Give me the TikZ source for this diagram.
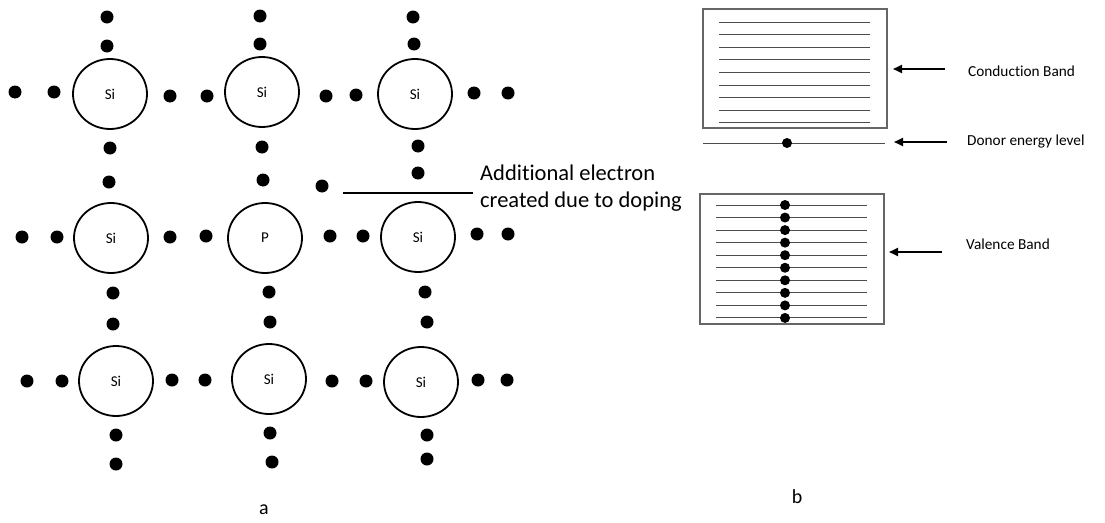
\documentclass[tikz,border=0pt]{standalone}
\usepackage{fontspec}
\setmainfont{Carlito}[Ligatures=NoCommon]
\usetikzlibrary{shapes.geometric,arrows.meta}
\begin{document}
\begin{tikzpicture}[x=1pt,y=-1pt,
  atom/.style={ellipse,draw,line width=1.8pt,minimum width=74pt,minimum height=70pt,
    inner sep=0pt,font=\fontsize{15}{15}\selectfont},
  edot/.style={circle,fill,inner sep=0pt,minimum size=13pt},
  sdot/.style={circle,fill,inner sep=0pt,minimum size=10pt},
  level/.style={line width=1pt,draw=black!70},
  bandbox/.style={draw=black!60,line width=1.2pt,inner sep=0pt},
  pointer/.style={line width=2pt,-{Triangle[length=9pt,width=8pt]}},
  bandlabel/.style={anchor=west,inner sep=0pt,font=\fontsize{15.3}{15.3}\selectfont},
  caption/.style={inner sep=0pt,font=\fontsize{20}{20}\selectfont}]

\useasboundingbox (0,0) rectangle (1105,522);

% ---------- (a) lattice of atoms ----------
\node[atom] (s11) at (110,94)  {Si};
\node[atom] (s12) at (262,92)  {Si};
\node[atom] (s13) at (415,94)  {Si};
\node[atom] (s21) at (111,238) {Si};
\node[atom] (p22) at (265,238) {P};
\node[atom] (s23) at (418,237) {Si};
\node[atom] (s31) at (116,381) {Si};
\node[atom] (s32) at (269,379) {Si};
\node[atom] (s33) at (421,382) {Si};

% valence electrons
\foreach \x/\y [count=\i] in {
  107/17, 107/46, 260/16, 260/44, 413/17, 414/44,
  15/92, 54/92, 170/96, 207/96, 326/96, 356/95, 474/93, 508/93,
  110/148, 109/182, 262/147, 263/180, 418/146, 418/173,
  22/237, 57/237, 170/237, 206/236, 330/236, 363/236, 477/234, 508/234,
  113/293, 113/324, 269/292, 270/322, 425/292, 427/322,
  27/381, 62/381, 172/380, 205/380, 332/381, 366/381, 478/380, 507/380,
  116/435, 116/464, 270/433, 272/462, 427/435, 427/459}
  \node[edot] (e\i) at (\x,\y) {};

% extra electron from the donor atom
\node[edot] (extra) at (322,186) {};
\coordinate (ptrA) at (343,193);
\coordinate (ptrB) at (473,193);
\draw[line width=1.5pt] (ptrA) -- (ptrB);
\node[anchor=west,align=left,inner sep=0pt,font=\fontsize{22.5}{27}\selectfont]
  (extralabel) at (480,188) {Additional electron\\created due to doping};

\node[caption] (capa) at (264,510) {a};

% ---------- (b) band diagram ----------
\node[bandbox,minimum width=184pt,minimum height=119pt] (cb) at (795,68.5) {};
\foreach \k in {0,...,8}
  \draw[level] (719,22+12.6*\k) -- (870,22+12.6*\k);

\coordinate (dl) at (703,143);
\coordinate (dr) at (885,143);
\draw[level] (dl) -- (dr);
\node[sdot] (donor) at (787,143) {};

\node[bandbox,minimum width=184pt,minimum height=130pt] (vb) at (792,259) {};
\foreach \k in {0,...,9} {
  \draw[level] (716,205+12.55*\k) -- (867,205+12.55*\k);
  \node[sdot] (v\k) at (785,205+12.55*\k) {};
}

\node[bandlabel] (cbl) at (968,71)  {Conduction Band};
\node[bandlabel] (dll) at (967,142) {Donor energy level};
\node[bandlabel] (vbl) at (966,244) {Valence Band};

\coordinate (cbs) at (945,69);  \coordinate (cbe) at (893,69);
\coordinate (dls) at (947,142); \coordinate (dle) at (894,142);
\coordinate (vbs) at (942,252); \coordinate (vbe) at (889,252);
\draw[pointer] (cbs) -- (cbe);
\draw[pointer] (dls) -- (dle);
\draw[pointer] (vbs) -- (vbe);

\node[caption] (capb) at (797,497) {b};
\end{tikzpicture}
\end{document}
